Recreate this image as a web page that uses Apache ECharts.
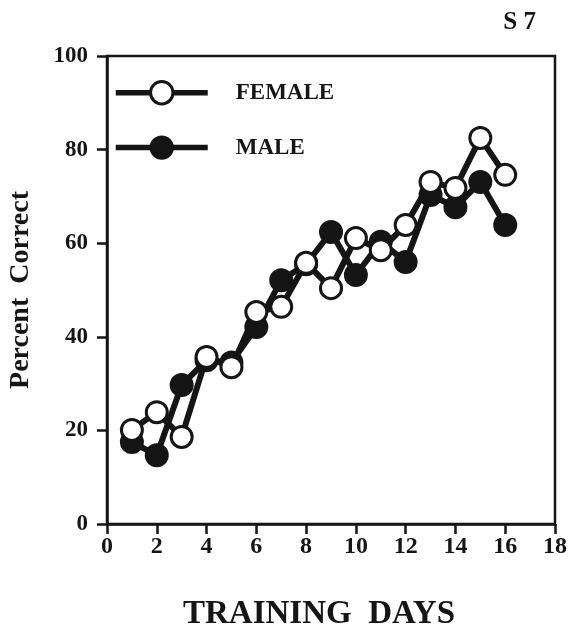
<!DOCTYPE html>
<html>
<head>
<meta charset="utf-8">
<script src="https://cdn.jsdelivr.net/npm/echarts@6/dist/echarts.min.js"></script>
<style>
html,body{margin:0;padding:0;background:#fff;}
#c{width:572px;height:632px;}
</style>
</head>
<body>
<div id="c"></div>
<script>
const days = [1,2,3,4,5,6,7,8,9,10,11,12,13,14,15,16];
const female = [20.1, 23.9, 18.6, 35.7, 33.5, 45.3, 46.4, 55.8, 50.4, 61.1, 58.5, 63.9, 73.1, 71.8, 82.5, 74.6];
const male = [17.5, 14.7, 29.7, 35.0, 34.5, 42.1, 52.1, 55.5, 62.4, 53.2, 60.3, 56.0, 70.3, 67.7, 73.1, 63.9];
const xTicks = [0,2,4,6,8,10,12,14,16,18];
const yTicks = [0,20,40,60,80,100];

const ink = '#151515';
const serif = '"Liberation Serif","DejaVu Serif",serif';

const chart = echarts.init(document.getElementById('c'));
chart.setOption({
  backgroundColor: '#fff',
  animation: false,
  title: {
    text: 'S 7', right: 31, top: 5,
    textStyle: {fontFamily: serif, fontWeight: 'bold', fontSize: 25, color: ink}
  },
  grid: {left: 107, right: 17, top: 56, bottom: 108, show: true, borderColor: ink, borderWidth: 2.5,
    containLabel: false, outerBoundsMode: 'none'},
  legend: {
    orient: 'vertical', left: 113, top: 80, padding: 0, itemWidth: 92, itemHeight: 28, itemGap: 30,
    textStyle: {fontFamily: serif, fontWeight: 'bold', fontSize: 23, color: ink, padding: [0,0,0,23]},
    data: [
      {name: 'FEMALE', lineStyle: {width: 5.5, color: ink}, itemStyle: {color: '#fff', borderColor: ink, borderWidth: 3}},
      {name: 'MALE', lineStyle: {width: 5.5, color: ink}, itemStyle: {color: ink, borderColor: ink}}
    ]
  },
  xAxis: {
    type: 'value', min: 0, max: 18, interval: 2,
    name: 'TRAINING  DAYS', nameLocation: 'middle', nameGap: 74,
    nameTextStyle: {fontFamily: serif, fontWeight: 'bold', fontSize: 33, color: ink, padding: [0,24,0,0]},
    axisLine: {lineStyle: {color: ink, width: 2.5}},
    axisTick: {inside: false, length: 10, lineStyle: {color: ink, width: 2.5}},
    axisLabel: {fontFamily: serif, fontWeight: 'bold', fontSize: 24, color: ink, margin: 11,
      formatter: v => xTicks.includes(v) ? String(v) : ''},
    splitLine: {show: false}
  },
  yAxis: {
    type: 'value', min: 0, max: 100, interval: 20,
    name: 'Percent  Correct', nameLocation: 'middle', nameGap: 72, nameRotate: 90,
    nameTextStyle: {fontFamily: serif, fontWeight: 'bold', fontSize: 28, color: ink},
    axisLine: {lineStyle: {color: ink, width: 2.5}},
    axisTick: {inside: false, length: 10, lineStyle: {color: ink, width: 2.5}},
    axisLabel: {fontFamily: serif, fontWeight: 'bold', fontSize: 23, color: ink, margin: 19,
      formatter: v => yTicks.includes(v) ? String(v) : ''},
    splitLine: {show: false}
  },
  series: [
    {
      name: 'MALE', type: 'line', z: 2,
      data: days.map((d,i) => [d, male[i]]),
      symbol: 'circle', symbolSize: 22,
      lineStyle: {color: ink, width: 6},
      itemStyle: {color: ink, borderColor: ink, borderWidth: 2}
    },
    {
      name: 'FEMALE', type: 'line', z: 3,
      data: days.map((d,i) => [d, female[i]]),
      symbol: 'circle', symbolSize: 21,
      lineStyle: {color: ink, width: 6},
      itemStyle: {color: '#fff', borderColor: ink, borderWidth: 3}
    }
  ]
});
</script>
</body>
</html>
